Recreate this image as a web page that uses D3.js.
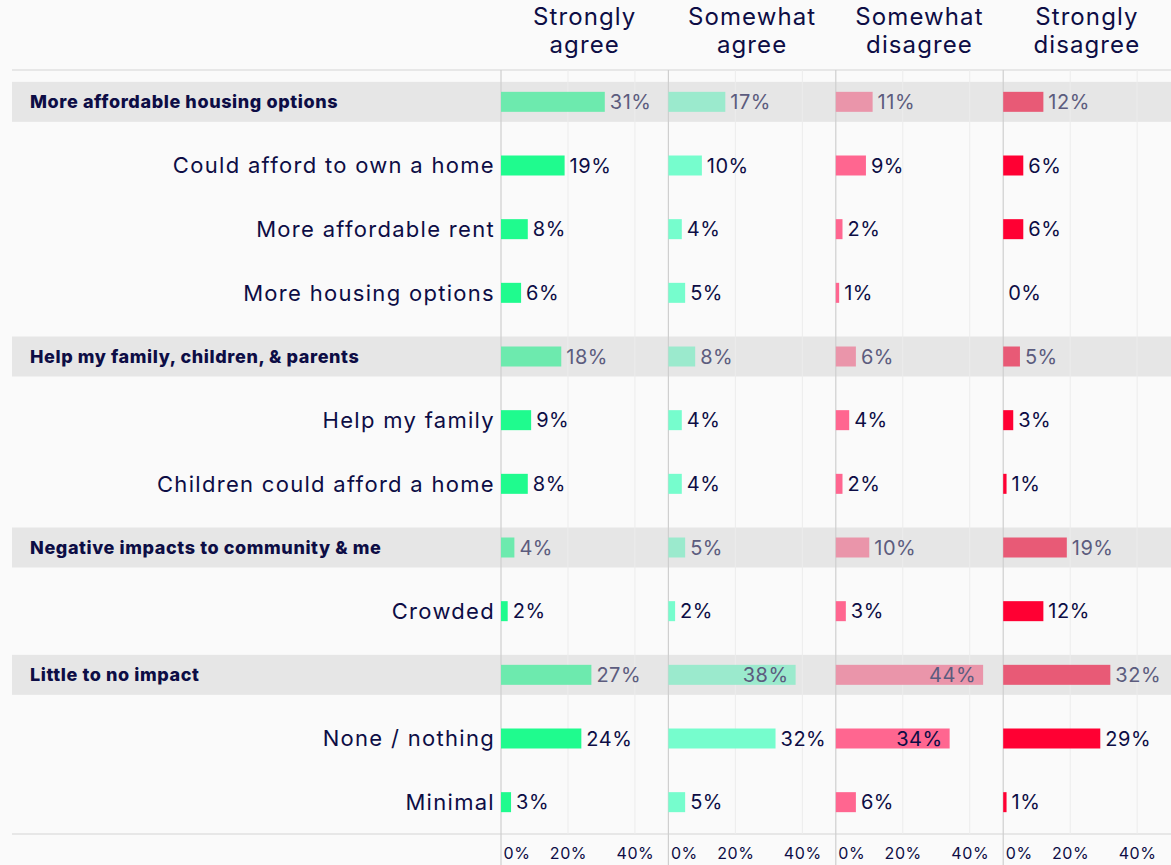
<!DOCTYPE html>
<html>
<head>
<meta charset="utf-8">
<script src="https://cdn.jsdelivr.net/npm/d3@7"></script>
<style>
  html, body { margin: 0; padding: 0; background: #fafafa; }
  svg { display: block; font-family: Inter, "Open Sans", sans-serif; }
</style>
</head>
<body>
<div id="chart"></div>
<script>
// answer categories (one panel each)
const categories = ["Strongly agree", "Somewhat agree", "Somewhat disagree", "Strongly disagree"];
const headerLines = [["Strongly", "agree"], ["Somewhat", "agree"], ["Somewhat", "disagree"], ["Strongly", "disagree"]];

// rows, top to bottom
const rowLabels = [
  "More affordable housing options",
  "Could afford to own a home",
  "More affordable rent",
  "More housing options",
  "Help my family, children, & parents",
  "Help my family",
  "Children could afford a home",
  "Negative impacts to community & me",
  "Crowded",
  "Little to no impact",
  "None / nothing",
  "Minimal",
];
const rowIsGroup = [true, false, false, false, true, false, false, true, false, true, false, false];

// percent values per category
const stronglyAgree = [31, 19, 8, 6, 18, 9, 8, 4, 2, 27, 24, 3];
const somewhatAgree = [17, 10, 4, 5, 8, 4, 4, 5, 2, 38, 32, 5];
const somewhatDisagree = [11, 9, 2, 1, 6, 4, 2, 10, 3, 44, 34, 6];
const stronglyDisagree = [12, 6, 6, 0, 5, 3, 1, 19, 12, 32, 29, 1];
const seriesValues = [stronglyAgree, somewhatAgree, somewhatDisagree, stronglyDisagree];

const tickValues = [0, 20, 40];

const colors = ["#1ffb8e", "#76fdcd", "#ff6690", "#ff0033"];
const groupColors = ["#6deaae", "#9beacd", "#ea95aa", "#e85a76"];
const NAVY = "#0d0d45";

const width = 1171, height = 865;
const leftEdge = 12, panelStart = 501, panelWidth = 167.4;
const plotTop = 70, plotBottom = 834;

const svg = d3.select("#chart").append("svg").attr("width", width).attr("height", height);

const y = d3.scaleBand().domain(d3.range(rowLabels.length)).range([plotTop, plotBottom]);
const panelX = d3.scaleBand().domain(categories).range([panelStart, panelStart + panelWidth * 4]).paddingInner(0);
const x = d3.scaleLinear().domain([0, 50]).range([0, panelWidth]);

// group bands
svg.selectAll("rect.band")
  .data(d3.range(rowLabels.length).filter((i) => rowIsGroup[i]))
  .enter()
  .append("rect")
  .attr("class", "band")
  .attr("x", leftEdge)
  .attr("width", width - leftEdge)
  .attr("y", (i) => y(i) + y.bandwidth() / 2 - 20)
  .attr("height", 40)
  .attr("fill", "#e6e6e6");

// frame lines
svg.append("line").attr("x1", leftEdge).attr("x2", width).attr("y1", plotTop).attr("y2", plotTop)
  .attr("stroke", "#d4d4d4").attr("stroke-width", 1.2);
svg.append("line").attr("x1", leftEdge).attr("x2", width).attr("y1", plotBottom).attr("y2", plotBottom)
  .attr("stroke", "#d4d4d4").attr("stroke-width", 1.2);

// row labels (group rows bold on the left, sub rows right aligned)
svg.selectAll("text.row-label")
  .data(rowLabels)
  .enter()
  .append("text")
  .attr("class", "row-label")
  .attr("x", (d, i) => (rowIsGroup[i] ? 30 : 495))
  .attr("y", (d, i) => y(i) + y.bandwidth() / 2)
  .attr("dy", "0.35em")
  .attr("text-anchor", (d, i) => (rowIsGroup[i] ? "start" : "end"))
  .attr("font-size", (d, i) => (rowIsGroup[i] ? 18 : 22))
  .attr("font-weight", (d, i) => (rowIsGroup[i] ? 800 : 400))
  .attr("letter-spacing", (d, i) => (rowIsGroup[i] ? 0.6 : 1.3))
  .attr("fill", NAVY)
  .text((d) => d);

categories.forEach(function (cat, c) {
  const g = svg.append("g").attr("transform", `translate(${panelX(cat)},0)`);
  const values = seriesValues[c];

  // gridlines
  g.selectAll("line.grid")
    .data(tickValues.slice(1))
    .enter()
    .append("line")
    .attr("x1", (d) => x(d)).attr("x2", (d) => x(d))
    .attr("y1", plotTop).attr("y2", plotBottom)
    .attr("stroke", "#ececec");

  // panel separator
  g.append("line").attr("x1", 0).attr("x2", 0).attr("y1", plotTop).attr("y2", height)
    .attr("stroke", "#cfcfcf").attr("stroke-width", 1.2);

  // header
  const header = g.append("text")
    .attr("x", panelWidth / 2)
    .attr("text-anchor", "middle")
    .attr("font-size", 24)
    .attr("letter-spacing", 1.1)
    .attr("fill", NAVY);
  headerLines[c].forEach(function (line, k) {
    header.append("tspan").attr("x", panelWidth / 2).attr("y", 25 + k * 28).text(line);
  });

  // bars
  g.selectAll("rect.bar")
    .data(values)
    .enter()
    .append("rect")
    .attr("class", "bar")
    .attr("x", x(0))
    .attr("y", (d, i) => y(i) + y.bandwidth() / 2 - 10)
    .attr("width", (d) => x(d))
    .attr("height", 20)
    .attr("fill", (d, i) => (rowIsGroup[i] ? groupColors[c] : colors[c]));

  // value labels, inside the bar when it is long
  g.selectAll("text.value")
    .data(values)
    .enter()
    .append("text")
    .attr("class", "value")
    .attr("x", (d) => (d >= 33 ? x(d) - 7 : x(d) + 5))
    .attr("y", (d, i) => y(i) + y.bandwidth() / 2)
    .attr("dy", "0.36em")
    .attr("text-anchor", (d) => (d >= 33 ? "end" : "start"))
    .attr("font-size", 20)
    .attr("letter-spacing", 0.5)
    .attr("fill", (d, i) => (rowIsGroup[i] ? "#5c5c7e" : NAVY))
    .text((d) => d + "%");

  // axis
  const axis = g.append("g").attr("transform", `translate(0,${plotBottom})`)
    .call(d3.axisBottom(x).tickValues(tickValues).tickFormat((d) => d + "%").tickSize(0).tickPadding(14));
  axis.select(".domain").remove();
  axis.selectAll("text")
    .attr("font-size", 16)
    .attr("font-family", "Inter, sans-serif")
    .attr("letter-spacing", 0.6)
    .attr("fill", NAVY)
    .attr("text-anchor", (d) => (d === 0 ? "start" : "middle"))
    .attr("dx", (d) => (d === 0 ? 2 : 0));
});
</script>
</body>
</html>
